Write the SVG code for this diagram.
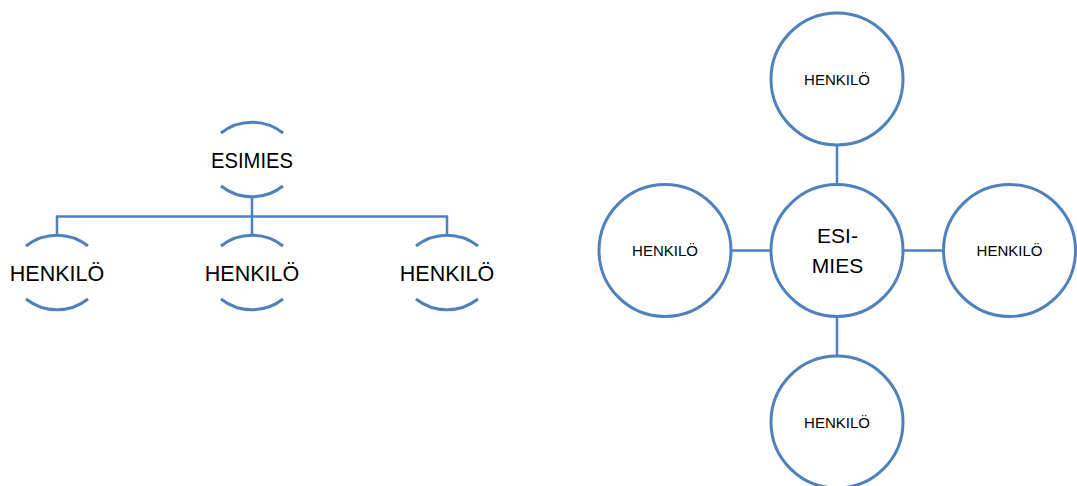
<svg xmlns="http://www.w3.org/2000/svg" width="1077" height="486" viewBox="0 0 1077 486">
<style>
.arc{fill:none;stroke:#4f81bd;stroke-width:3}
.circ{fill:#fff;stroke:#4f81bd;stroke-width:3}
.con{fill:none;stroke:#4f81bd;stroke-width:2.5}
.big{font-family:"Liberation Sans",Arial,sans-serif;font-size:21.5px;fill:#000;text-anchor:middle}
.mid{font-family:"Liberation Sans",Arial,sans-serif;font-size:21px;fill:#000;text-anchor:middle}
.small{font-family:"Liberation Sans",Arial,sans-serif;font-size:15px;fill:#000;text-anchor:middle}
</style>
<rect width="1077" height="486" fill="#fff"/>
<g id="connectors">
<path class="con" d="M252 198V216.5M57 216.5H447M57 215.3V235.5M252 216.5V235.5M447 215.3V235.5"/>
<path class="con" d="M837 145V184.5M837 316.5V356M731 250.5H771M903 250.5H943.5"/>
</g>
<g id="esimies-left">
<path class="arc" d="M221 133A50 50 0 0 1 283 133M221 186A50 50 0 0 0 283 186"/>
<text class="big" x="252" y="167.5" textLength="82" lengthAdjust="spacingAndGlyphs">ESIMIES</text>
</g>
<g id="henkilo-left-1">
<path class="arc" d="M26 246A50 50 0 0 1 88 246M26 299A50 50 0 0 0 88 299"/>
<text class="big" x="57" y="281">HENKILÖ</text>
</g>
<g id="henkilo-left-2">
<path class="arc" d="M221 246A50 50 0 0 1 283 246M221 299A50 50 0 0 0 283 299"/>
<text class="big" x="252" y="281">HENKILÖ</text>
</g>
<g id="henkilo-left-3">
<path class="arc" d="M416 246A50 50 0 0 1 478 246M416 299A50 50 0 0 0 478 299"/>
<text class="big" x="447" y="281">HENKILÖ</text>
</g>
<g id="esimies-center">
<circle class="circ" cx="837" cy="250.5" r="66"/>
<text class="mid" x="837.5" y="243">ESI-</text>
<text class="mid" x="837.5" y="272.5">MIES</text>
</g>
<g id="henkilo-top">
<circle class="circ" cx="837" cy="79" r="66"/>
<text class="small" x="837" y="84.5">HENKILÖ</text>
</g>
<g id="henkilo-left">
<circle class="circ" cx="665" cy="250.5" r="66"/>
<text class="small" x="665" y="256">HENKILÖ</text>
</g>
<g id="henkilo-right">
<circle class="circ" cx="1009.5" cy="250.5" r="66"/>
<text class="small" x="1009.5" y="256">HENKILÖ</text>
</g>
<g id="henkilo-bottom">
<circle class="circ" cx="837" cy="422" r="66"/>
<text class="small" x="837" y="427.5">HENKILÖ</text>
</g>
</svg>
